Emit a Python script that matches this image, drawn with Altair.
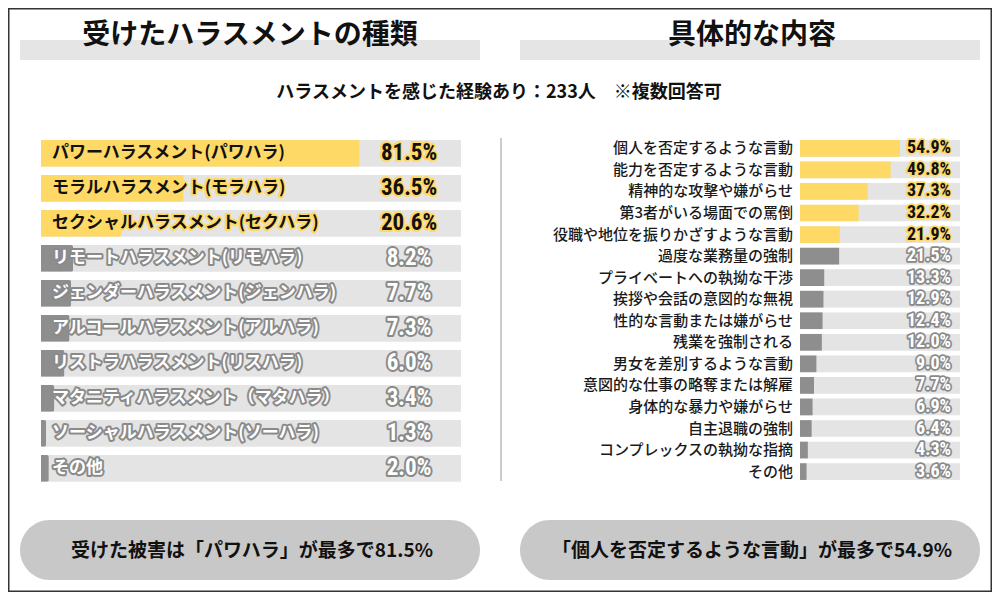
import altair as alt
import pandas as pd

# ---------------- data ----------------
title_left = ["受けたハラスメントの種類"]
title_right = ["具体的な内容"]
subtitle = ["ハラスメントを感じた経験あり：233人　※複数回答可"]
summary_left = ["受けた被害は「パワハラ」が最多で81.5%"]
summary_right = ["「個人を否定するような言動」が最多で54.9%"]

left_categories = [
    "パワーハラスメント(パワハラ)",
    "モラルハラスメント(モラハラ)",
    "セクシャルハラスメント(セクハラ)",
    "リモートハラスメント(リモハラ)",
    "ジェンダーハラスメント(ジェンハラ)",
    "アルコールハラスメント(アルハラ)",
    "リストラハラスメント(リスハラ)",
    "マタニティハラスメント（マタハラ）",
    "ソーシャルハラスメント(ソーハラ)",
    "その他",
]
left_values = [81.5, 36.5, 20.6, 8.2, 7.7, 7.3, 6.0, 3.4, 1.3, 2.0]
left_groups = ["top", "top", "top", "other", "other", "other", "other", "other", "other", "other"]

right_categories = [
    "個人を否定するような言動",
    "能力を否定するような言動",
    "精神的な攻撃や嫌がらせ",
    "第3者がいる場面での罵倒",
    "役職や地位を振りかざすような言動",
    "過度な業務量の強制",
    "プライベートへの執拗な干渉",
    "挨拶や会話の意図的な無視",
    "性的な言動または嫌がらせ",
    "残業を強制される",
    "男女を差別するような言動",
    "意図的な仕事の略奪または解雇",
    "身体的な暴力や嫌がらせ",
    "自主退職の強制",
    "コンプレックスの執拗な指摘",
    "その他",
]
right_values = [54.9, 49.8, 37.3, 32.2, 21.9, 21.5, 13.3, 12.9, 12.4, 12.0, 9.0, 7.7, 6.9, 6.4, 4.3, 3.6]
right_groups = ["top"] * 5 + ["other"] * 11

# ---------------- styles ----------------
YELLOW = "#ffd966"
GRAY_BAR = "#8e8e8e"
TRACK = "#e4e4e4"
HEAD_BAR = "#e5e5e5"
PILL = "#c8c8c8"
INK = "#111111"
JP = "Noto Sans CJK JP"
NUM = ("Roboto Condensed, 'Noto Sans ExtraCondensed', 'Noto Sans Condensed', "
       "'Liberation Sans Narrow', 'DejaVu Sans Condensed', 'Arial Narrow', sans-serif")

OX, OY = 8, 8  # page margin


def px(x):
    return x - OX


def py(y):
    return y - OY


def one():
    return alt.Chart(pd.DataFrame([{"k": 0}]))


def is_top(a, b):
    return alt.condition("datum.group == 'top'", alt.value(a), alt.value(b))


# ---------------- decorations ----------------
border = one().mark_rect(filled=False, color="#333333", strokeWidth=1.5).encode(
    x=alt.value(0.75), x2=alt.value(983.25), y=alt.value(0.75), y2=alt.value(583.25)
)

head_bars = [
    one().mark_rect(color=HEAD_BAR).encode(
        x=alt.value(px(x0)), x2=alt.value(px(x1)), y=alt.value(py(40)), y2=alt.value(py(60))
    )
    for x0, x1 in [(20, 480), (520, 980)]
]


def text_layer(texts, x, y, size, weight, color=INK, font=JP):
    return alt.Chart(pd.DataFrame({"t": texts})).mark_text(
        font=font, fontSize=size, fontWeight=weight, color=color, align="center", baseline="middle"
    ).encode(text="t:N", x=alt.value(px(x)), y=alt.value(py(y)))


titles = [
    text_layer(title_left, 250, 36, 28, "bold"),
    text_layer(title_right, 752, 36, 28, "bold"),
]
sub = text_layer(subtitle, 499, 93, 18, "bold")

pills = [
    one().mark_rect(color=PILL, cornerRadius=30).encode(
        x=alt.value(px(x0)), x2=alt.value(px(x1)), y=alt.value(py(520)), y2=alt.value(py(580))
    )
    for x0, x1 in [(20, 480), (520, 980)]
]
pill_texts = [
    text_layer(summary_left, 252, 551, 19, "bold"),
    text_layer(summary_right, 752, 551, 19, "bold"),
]

divider = one().mark_rule(color="#999999", strokeWidth=1).encode(
    x=alt.value(px(501)), y=alt.value(py(138)), y2=alt.value(py(481))
)

# ---------------- left panel ----------------
left_df = pd.DataFrame({"cat": left_categories, "value": left_values, "group": left_groups})
l_step, l_pi = 35.0, 0.237
l_r0 = py(140) - l_pi * l_step / 2
lx = alt.Scale(domain=[0, 100], range=[px(41), px(41) + 391])
ly = alt.Scale(domain=left_categories, range=[l_r0, l_r0 + len(left_categories) * l_step],
               paddingInner=l_pi, paddingOuter=l_pi / 2)

lbase = alt.Chart(left_df).transform_calculate(
    vlabel="format(datum.value, '.1f') + '%'"
).encode(y=alt.Y("cat:N", scale=ly, axis=None))

l_track = lbase.mark_rect(color=TRACK).encode(x=alt.value(px(41)), x2=alt.value(px(461)))
l_bar = lbase.mark_bar(cornerRadiusEnd=2).encode(
    x=alt.X("value:Q", scale=lx, axis=None), color=is_top(YELLOW, GRAY_BAR)
)
l_label_halo = lbase.mark_text(
    align="left", baseline="middle", font=JP, fontSize=17, fontWeight="bold",
    strokeWidth=4, strokeJoin="round"
).encode(x=alt.value(px(52)), text="cat:N", stroke=is_top(YELLOW, "#8a8a8a"), fill=is_top(YELLOW, "#8a8a8a"))
l_label = lbase.mark_text(
    align="left", baseline="middle", font=JP, fontSize=17, fontWeight="bold"
).encode(x=alt.value(px(52)), text="cat:N", fill=is_top(INK, "#ffffff"))
l_val_halo = lbase.mark_text(
    align="center", baseline="middle", font=NUM, fontSize=23, fontWeight="bold",
    strokeWidth=4, strokeJoin="round"
).encode(x=alt.value(px(409)), text="vlabel:N", stroke=is_top(YELLOW, "#8a8a8a"), fill=is_top(YELLOW, "#8a8a8a"))
l_val = lbase.mark_text(
    align="center", baseline="middle", font=NUM, fontSize=23, fontWeight="bold"
).encode(x=alt.value(px(409)), text="vlabel:N", fill=is_top(INK, "#ffffff"))

left_layer = alt.layer(l_track, l_bar, l_label_halo, l_label, l_val_halo, l_val)

# ---------------- right panel ----------------
right_df = pd.DataFrame({"cat": right_categories, "value": right_values, "group": right_groups})
r_step, r_pi = 21.55, 0.225
r_r0 = py(140) - r_pi * r_step / 2
rx = alt.Scale(domain=[0, 100], range=[px(800), px(800) + 182])
ry = alt.Scale(domain=right_categories, range=[r_r0, r_r0 + len(right_categories) * r_step],
               paddingInner=r_pi, paddingOuter=r_pi / 2)

rbase = alt.Chart(right_df).transform_calculate(
    vlabel="format(datum.value, '.1f') + '%'"
).encode(y=alt.Y("cat:N", scale=ry, axis=None))

r_track = rbase.mark_rect(color=TRACK).encode(x=alt.value(px(800)), x2=alt.value(px(960)))
r_bar = rbase.mark_bar().encode(
    x=alt.X("value:Q", scale=rx, axis=None), color=is_top(YELLOW, GRAY_BAR)
)
r_label = rbase.mark_text(
    align="right", baseline="middle", font=JP, fontSize=15, fontWeight=500, color="#1a1a1a"
).encode(x=alt.value(px(793)), text="cat:N")
r_val_halo = rbase.mark_text(
    align="right", baseline="middle", font=NUM, fontSize=18, fontWeight="bold",
    strokeWidth=3.5, strokeJoin="round"
).encode(x=alt.value(px(951)), text="vlabel:N", stroke=is_top(YELLOW, "#8a8a8a"), fill=is_top(YELLOW, "#8a8a8a"))
r_val = rbase.mark_text(
    align="right", baseline="middle", font=NUM, fontSize=18, fontWeight="bold"
).encode(x=alt.value(px(951)), text="vlabel:N", fill=is_top(INK, "#ffffff"))

right_layer = alt.layer(r_track, r_bar, r_label, r_val_halo, r_val)

# ---------------- compose ----------------
chart = alt.layer(
    border, *head_bars, *titles, sub, divider, *pills, *pill_texts, left_layer, right_layer
).resolve_scale(x="independent", y="independent").properties(
    width=984, height=584, autosize=alt.AutoSizeParams(type="none"), padding=0, background="white"
).configure_view(strokeWidth=0)

chart.save("out.html", embed_options={"renderer": "svg", "actions": False})
